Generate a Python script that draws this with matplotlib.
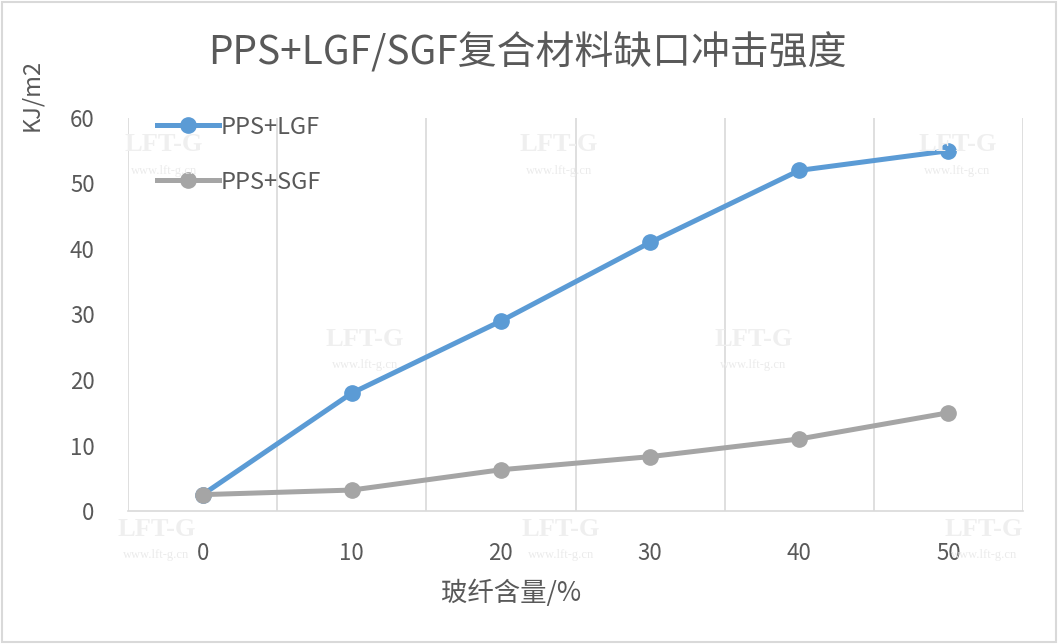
import matplotlib.pyplot as plt
import numpy as np

plt.rcParams['font.family'] = ['Noto Sans CJK SC', 'DejaVu Sans']

categories = ['0', '10', '20', '30', '40', '50']
lgf = [2.5, 18, 29, 41, 52, 55]
sgf = [2.5, 3.2, 6.3, 8.3, 11, 15]
yticks = [0, 10, 20, 30, 40, 50, 60]

txt = '#595959'
fig = plt.figure(figsize=(10.58, 6.44), dpi=100)
ax = fig.add_axes([0.121, 0.2065, 0.846, 0.6103])

x = np.arange(len(categories))
ax.plot(x, lgf, color='#5B9BD5', lw=3.6, marker='o', ms=11, label='PPS+LGF', zorder=3)
ax.plot(x, sgf, color='#A5A5A5', lw=3.6, marker='o', ms=11, label='PPS+SGF', zorder=3)

ax.set_xlim(-0.5, len(categories) - 0.5)
ax.set_ylim(0, 60)
ax.set_xticks(x)
ax.set_xticklabels(categories)
ax.set_yticks(yticks)
ax.set_xticks(np.arange(-0.5, len(categories)), minor=True)
ax.grid(True, axis='x', which='minor', color='#D9D9D9', lw=1.2)
ax.tick_params(axis='both', which='both', length=0, labelsize=16, labelcolor=txt)
ax.tick_params(axis='x', pad=22)
ax.tick_params(axis='y', pad=24)
for s in ['top', 'left', 'right']:
    ax.spines[s].set_visible(False)
ax.spines['bottom'].set_color('#D9D9D9')
ax.spines['bottom'].set_linewidth(1.2)

fig.text(0.483, 0.078, '玻纤含量/%', fontsize=19, color=txt, ha='center', va='center')
fig.text(0.03, 0.853, 'KJ/m2', rotation=90, fontsize=17, color=txt, ha='center', va='center')
fig.text(0.498, 0.918, 'PPS+LGF/SGF复合材料缺口冲击强度', fontsize=28, color=txt, ha='center', va='center')

leg = ax.legend(loc='upper left', bbox_to_anchor=(0.022, 1.03), frameon=False, fontsize=17,
                handlelength=2.6, labelspacing=1.35, handletextpad=0.1, borderaxespad=0)
for t in leg.get_texts():
    t.set_color(txt)

# faint watermarks
for wx, wy in [(0.155, 0.775), (0.528, 0.775), (0.905, 0.775), (0.345, 0.473), (0.712, 0.473),
               (0.148, 0.178), (0.53, 0.178), (0.93, 0.178)]:
    fig.text(wx, wy, 'LFT-G', fontsize=19, fontweight='bold', family='Liberation Serif',
             color='#EFEFEF', ha='center', va='center', zorder=0)
    fig.text(wx, wy - 0.04, 'www.lft-g.cn', fontsize=9, family='Liberation Serif',
             color='#EBEBEB', ha='center', va='center', zorder=0)

fig.patches.append(plt.Rectangle((0.002, 0.003), 0.996, 0.994, transform=fig.transFigure,
                                 fill=False, edgecolor='#D9D9D9', lw=1.5))
fig.savefig('out.png', dpi=100)
